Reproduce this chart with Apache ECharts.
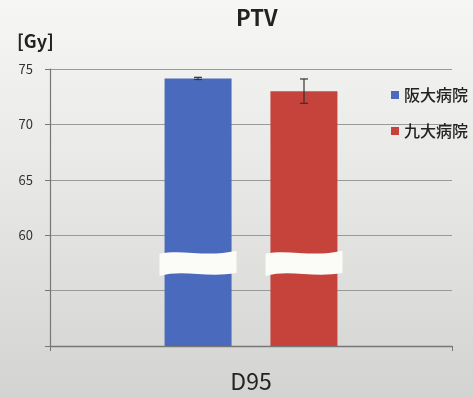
<!DOCTYPE html>
<html><head><meta charset="utf-8">
<script src="https://cdn.jsdelivr.net/npm/echarts@6/dist/echarts.min.js"></script>
<style>html,body{margin:0;padding:0;}#c{width:473px;height:397px;}</style>
</head><body><div id="c"></div>
<script>
const categories = ['D95'];
const seriesNames = ['阪大病院', '九大病院'];
const osakaValues = [74.15];
const osakaErrors = [0.1];
const kyushuValues = [73.0];
const kyushuErrors = [1.1];
const yTickLabels = [60, 65, 70, 75];
const breakRange = [56.4, 58.5];

const FONT = '"Noto Sans CJK JP", "Noto Sans", sans-serif';
const colors = ['#4a6bbd', '#c5433b'];
const BAR_W = 67, OFFSET = 53;

function errRender(offset){
  return function(params, api){
    const v = api.value(1), e = api.value(2);
    const top = api.coord([api.value(0), v + e]);
    const bot = api.coord([api.value(0), v - e]);
    const x = top[0] + offset, cap = 4;
    const st = {stroke:'#333', lineWidth:1.2};
    return {type:'group', children:[
      {type:'line', shape:{x1:x,y1:top[1],x2:x,y2:bot[1]}, style:st},
      {type:'line', shape:{x1:x-cap,y1:top[1],x2:x+cap,y2:top[1]}, style:st},
      {type:'line', shape:{x1:x-cap,y1:bot[1],x2:x+cap,y2:bot[1]}, style:st}
    ]};
  };
}
function breakRender(params, api){
  const c = api.value(0);
  const hi = api.coord([c, breakRange[1]]);
  const lo = api.coord([c, breakRange[0]]);
  const children = [];
  [-OFFSET, OFFSET].forEach(function(off){
    const cx = hi[0] + off, half = BAR_W/2 + 5;
    const x0 = cx - half, x1 = cx + half, w = x1 - x0;
    const a = 3;
    const p = 'M' + x0 + ' ' + (hi[1]+2) +
      ' C' + (x0 + w*0.3) + ' ' + (hi[1]-a) + ' ' + (x0 + w*0.6) + ' ' + (hi[1]+a*2) + ' ' + x1 + ' ' + (hi[1]-1) +
      ' L' + x1 + ' ' + (lo[1]-2) +
      ' C' + (x0 + w*0.6) + ' ' + (lo[1]+a) + ' ' + (x0 + w*0.3) + ' ' + (lo[1]-a*2) + ' ' + x0 + ' ' + (lo[1]+1) + ' Z';
    children.push({type:'path', shape:{pathData:p}, style:{fill:'#fbfbf8'}});
  });
  return {type:'group', children:children};
}

const chart = echarts.init(document.getElementById('c'));
chart.setOption({
  backgroundColor: {type:'linear', x:0, y:0, x2:0, y2:1, colorStops:[
    {offset:0, color:'#f6f6f4'}, {offset:0.5, color:'#e6e6e4'}, {offset:1, color:'#d3d3d2'}]},
  animation:false,
  textStyle:{fontFamily:FONT},
  title:[
    {text:'PTV', left:231, top:2, textStyle:{fontSize:22, fontWeight:'bold', color:'#222', fontFamily:FONT}},
    {text:'[Gy]', left:12, top:27, textStyle:{fontSize:18, fontWeight:'bold', color:'#222', fontFamily:FONT}}
  ],
  legend:{
    orient:'vertical', left:391, top:87, padding:0, itemWidth:8, itemHeight:8, itemGap:20,
    icon:'rect', data:seriesNames,
    textStyle:{fontSize:16, fontWeight:500, color:'#222', fontFamily:FONT}
  },
  grid:{left:50, right:21, top:69, bottom:51},
  xAxis:{
    type:'category', data:categories,
    axisLine:{lineStyle:{color:'#777', width:1.3}},
    axisTick:{show:true, length:5, lineStyle:{color:'#777'}},
    axisLabel:{fontSize:23, color:'#222', margin:24, fontFamily:FONT}
  },
  yAxis:{
    type:'value', min:50, max:75, interval:5,
    axisLine:{show:true, lineStyle:{color:'#777', width:1.2}},
    axisTick:{show:true, length:5, lineStyle:{color:'#777'}},
    splitLine:{lineStyle:{color:'#9a9a9a', width:1}},
    axisLabel:{fontSize:13, color:'#333', margin:17, fontFamily:FONT,
      formatter:function(v){ return yTickLabels.indexOf(v) >= 0 ? String(v) : ''; }}
  },
  series:[
    {name:seriesNames[0], type:'bar', data:osakaValues, barWidth:BAR_W, barGap:'58%', itemStyle:{color:colors[0]}},
    {name:seriesNames[1], type:'bar', data:kyushuValues, barWidth:BAR_W, itemStyle:{color:colors[1]}},
    {type:'custom', renderItem:breakRender, data:categories.map(function(c,i){return [i];}), z:5, silent:true},
    {type:'custom', renderItem:errRender(-OFFSET), data:osakaValues.map(function(v,i){return [i, v, osakaErrors[i]];}), z:6, silent:true},
    {type:'custom', renderItem:errRender(OFFSET), data:kyushuValues.map(function(v,i){return [i, v, kyushuErrors[i]];}), z:6, silent:true}
  ]
});
</script>
</body></html>
